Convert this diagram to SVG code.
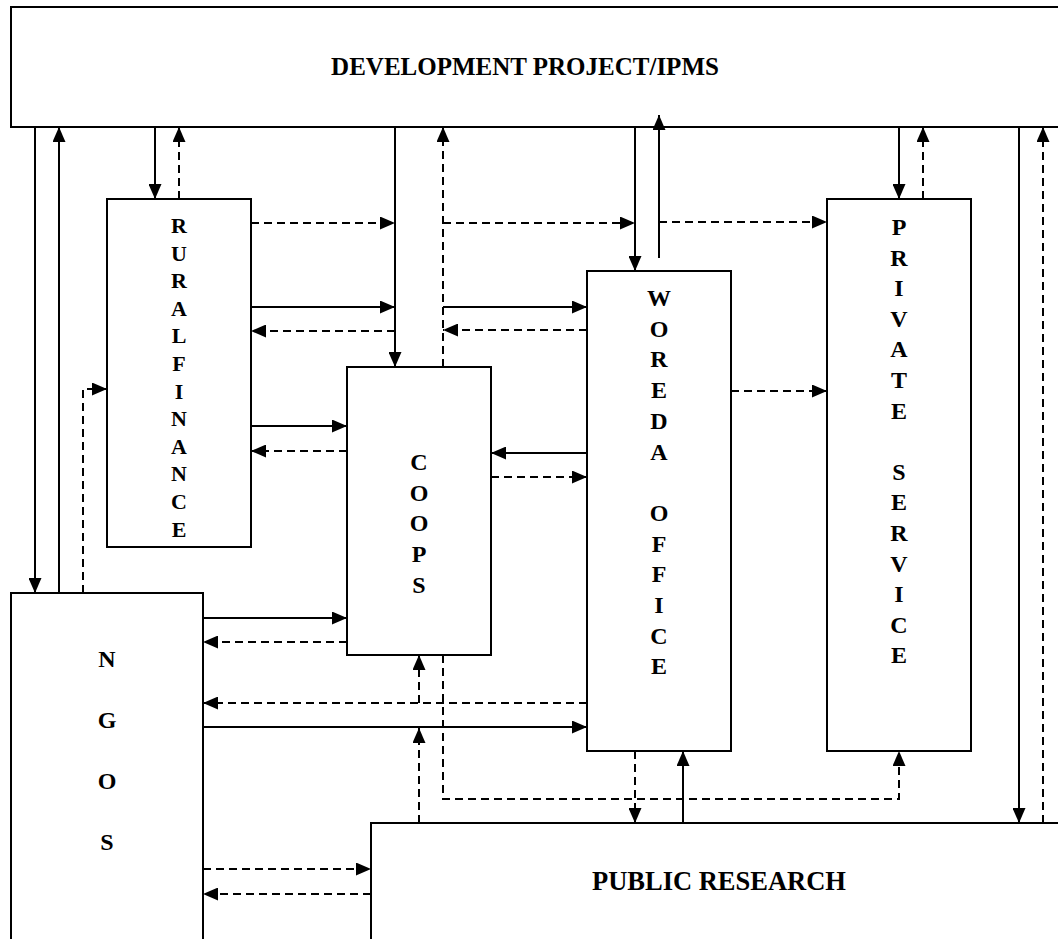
<svg xmlns="http://www.w3.org/2000/svg" width="1058" height="939" viewBox="0 0 1058 939">
<style>
.box{fill:#fff;stroke:#000;stroke-width:2}
.s{fill:none;stroke:#000;stroke-width:2}
.d{fill:none;stroke:#000;stroke-width:2;stroke-dasharray:8 5}
.t{font-family:"Liberation Serif","Times New Roman",serif;font-weight:bold;fill:#000;text-anchor:middle}
</style>
<defs>
<marker id="a" viewBox="0 0 15 13" refX="15" refY="6.5" markerWidth="15" markerHeight="13" markerUnits="userSpaceOnUse" orient="auto"><path d="M0,0 L15,6.5 L0,13 z" fill="#000"/></marker>
</defs>
<rect width="1058" height="939" fill="#fff"/>
<g id="development-project">
<rect class="box" x="11" y="7" width="1060" height="120"/>
<text class="t" x="525" y="75" font-size="25">DEVELOPMENT PROJECT/IPMS</text>
</g>
<g id="rural-finance">
<rect class="box" x="107" y="199" width="144" height="348"/>
<text class="t" font-size="22"><tspan x="179" y="233">R</tspan><tspan x="179" dy="27.6">U</tspan><tspan x="179" dy="27.6">R</tspan><tspan x="179" dy="27.6">A</tspan><tspan x="179" dy="27.6">L</tspan><tspan x="179" dy="27.6">F</tspan><tspan x="179" dy="27.6">I</tspan><tspan x="179" dy="27.6">N</tspan><tspan x="179" dy="27.6">A</tspan><tspan x="179" dy="27.6">N</tspan><tspan x="179" dy="27.6">C</tspan><tspan x="179" dy="27.6">E</tspan></text>
</g>
<g id="coops">
<rect class="box" x="347" y="367" width="144" height="288"/>
<text class="t" font-size="24"><tspan x="419" y="470">C</tspan><tspan x="419" dy="30.7">O</tspan><tspan x="419" dy="30.7">O</tspan><tspan x="419" dy="30.7">P</tspan><tspan x="419" dy="30.7">S</tspan></text>
</g>
<g id="woreda-office">
<rect class="box" x="587" y="271" width="144" height="480"/>
<text class="t" font-size="24"><tspan x="659" y="306">W</tspan><tspan x="659" dy="30.7">O</tspan><tspan x="659" dy="30.7">R</tspan><tspan x="659" dy="30.7">E</tspan><tspan x="659" dy="30.7">D</tspan><tspan x="659" dy="30.7">A</tspan><tspan x="659" dy="61.4">O</tspan><tspan x="659" dy="30.7">F</tspan><tspan x="659" dy="30.7">F</tspan><tspan x="659" dy="30.7">I</tspan><tspan x="659" dy="30.7">C</tspan><tspan x="659" dy="30.7">E</tspan></text>
</g>
<g id="private-service">
<rect class="box" x="827" y="199" width="144" height="552"/>
<text class="t" font-size="24"><tspan x="899" y="235">P</tspan><tspan x="899" dy="30.6">R</tspan><tspan x="899" dy="30.6">I</tspan><tspan x="899" dy="30.6">V</tspan><tspan x="899" dy="30.6">A</tspan><tspan x="899" dy="30.6">T</tspan><tspan x="899" dy="30.6">E</tspan><tspan x="899" dy="61.2">S</tspan><tspan x="899" dy="30.6">E</tspan><tspan x="899" dy="30.6">R</tspan><tspan x="899" dy="30.6">V</tspan><tspan x="899" dy="30.6">I</tspan><tspan x="899" dy="30.6">C</tspan><tspan x="899" dy="30.6">E</tspan></text>
</g>
<g id="ngos">
<rect class="box" x="11" y="593" width="192" height="360"/>
<text class="t" font-size="24"><tspan x="107" y="667">N</tspan><tspan x="107" dy="61">G</tspan><tspan x="107" dy="61">O</tspan><tspan x="107" dy="61">S</tspan></text>
</g>
<g id="public-research">
<rect class="box" x="371" y="823" width="700" height="130"/>
<text class="t" x="719" y="890" font-size="26.5">PUBLIC RESEARCH</text>
</g>
<g id="connectors" marker-end="url(#a)">
<path class="s" d="M35,127 V593"/>
<path class="s" d="M59,593 V127"/>
<path class="s" d="M155,127 V199"/>
<path class="d" d="M179,199 V127"/>
<path class="s" d="M395,127 V367"/>
<path class="d" d="M443,367 V127"/>
<path class="s" d="M635,127 V271"/>
<path class="s" d="M659,258 V115"/>
<path class="s" d="M899,127 V199"/>
<path class="d" d="M923,199 V127"/>
<path class="s" d="M1019,127 V823"/>
<path class="d" d="M1043,823 V127"/>
<path class="d" d="M251,223 H395"/>
<path class="d" d="M443,223 H635"/>
<path class="d" d="M659,222 H827"/>
<path class="s" d="M251,307 H395"/>
<path class="s" d="M443,307 H587"/>
<path class="d" d="M587,330 H443"/>
<path class="d" d="M395,331 H251"/>
<path class="d" d="M83,593 V389 H107"/>
<path class="s" d="M251,426 H347"/>
<path class="d" d="M347,451 H251"/>
<path class="s" d="M587,453 H491"/>
<path class="d" d="M491,477 H587"/>
<path class="d" d="M731,391 H827"/>
<path class="s" d="M203,618 H347"/>
<path class="d" d="M347,642 H203"/>
<path class="d" d="M587,703 H203"/>
<path class="d" d="M419,703 V655"/>
<path class="s" d="M203,727 H587"/>
<path class="d" d="M419,823 V728"/>
<path class="d" d="M443,655 V799 H899 V751"/>
<path class="d" d="M635,751 V823"/>
<path class="s" d="M683,823 V751"/>
<path class="d" d="M203,869 H371"/>
<path class="d" d="M371,894 H203"/>
</g>
</svg>
